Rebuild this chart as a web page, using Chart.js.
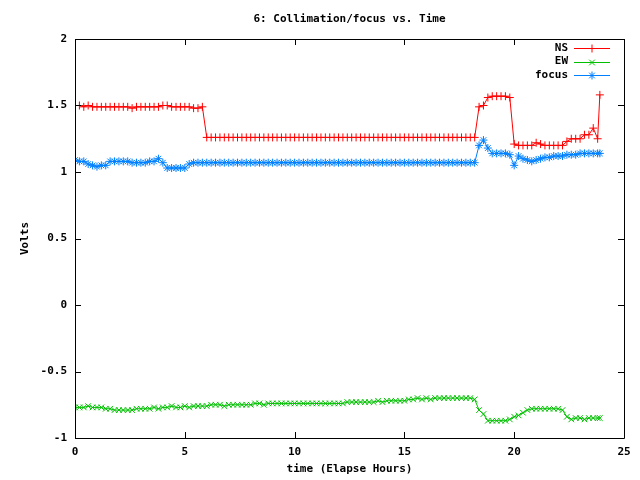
<!DOCTYPE html>
<html>
<head>
<meta charset="utf-8">
<script src="https://cdn.jsdelivr.net/npm/chart.js@4"></script>
<style>
  html, body { margin: 0; padding: 0; background: #fff; }
  #wrap { width: 640px; height: 480px; }
</style>
</head>
<body>
<div id="wrap"><canvas id="myChart" width="640" height="480"></canvas></div>
<script>
// elapsed time, hours
const hours = [
  0.0, 0.2, 0.4, 0.6, 0.8, 1.0, 1.2, 1.4, 1.6, 1.8,
  2.0, 2.2, 2.4, 2.6, 2.8, 3.0, 3.2, 3.4, 3.6, 3.8,
  4.0, 4.2, 4.4, 4.6, 4.8, 5.0, 5.2, 5.4, 5.6, 5.8,
  6.0, 6.2, 6.4, 6.6, 6.8, 7.0, 7.2, 7.4, 7.6, 7.8,
  8.0, 8.2, 8.4, 8.6, 8.8, 9.0, 9.2, 9.4, 9.6, 9.8,
  10.0, 10.2, 10.4, 10.6, 10.8, 11.0, 11.2, 11.4, 11.6, 11.8,
  12.0, 12.2, 12.4, 12.6, 12.8, 13.0, 13.2, 13.4, 13.6, 13.8,
  14.0, 14.2, 14.4, 14.6, 14.8, 15.0, 15.2, 15.4, 15.6, 15.8,
  16.0, 16.2, 16.4, 16.6, 16.8, 17.0, 17.2, 17.4, 17.6, 17.8,
  18.0, 18.2, 18.4, 18.6, 18.8, 19.0, 19.2, 19.4, 19.6, 19.8,
  20.0, 20.2, 20.4, 20.6, 20.8, 21.0, 21.2, 21.4, 21.6, 21.8,
  22.0, 22.2, 22.4, 22.6, 22.8, 23.0, 23.2, 23.4, 23.6, 23.8, 23.9
]

const ns = [
  1.50, 1.50, 1.49, 1.50, 1.49, 1.49, 1.49, 1.49, 1.49, 1.49,
  1.49, 1.49, 1.49, 1.48, 1.49, 1.49, 1.49, 1.49, 1.49, 1.49,
  1.50, 1.50, 1.49, 1.49, 1.49, 1.49, 1.49, 1.48, 1.48, 1.49,
  1.26, 1.26, 1.26, 1.26, 1.26, 1.26, 1.26, 1.26, 1.26, 1.26,
  1.26, 1.26, 1.26, 1.26, 1.26, 1.26, 1.26, 1.26, 1.26, 1.26,
  1.26, 1.26, 1.26, 1.26, 1.26, 1.26, 1.26, 1.26, 1.26, 1.26,
  1.26, 1.26, 1.26, 1.26, 1.26, 1.26, 1.26, 1.26, 1.26, 1.26,
  1.26, 1.26, 1.26, 1.26, 1.26, 1.26, 1.26, 1.26, 1.26, 1.26,
  1.26, 1.26, 1.26, 1.26, 1.26, 1.26, 1.26, 1.26, 1.26, 1.26,
  1.26, 1.26, 1.49, 1.50, 1.56, 1.57, 1.57, 1.57, 1.57, 1.56,
  1.21, 1.20, 1.20, 1.20, 1.20, 1.22, 1.21, 1.20, 1.20, 1.20,
  1.20, 1.20, 1.23, 1.25, 1.25, 1.25, 1.28, 1.28, 1.33, 1.25, 1.58
]

const ew = [
  -0.77, -0.77, -0.77, -0.76, -0.77, -0.77, -0.77, -0.78, -0.78, -0.79,
  -0.79, -0.79, -0.79, -0.79, -0.78, -0.78, -0.78, -0.78, -0.77, -0.78,
  -0.77, -0.77, -0.76, -0.77, -0.77, -0.76, -0.77, -0.76, -0.76, -0.76,
  -0.76, -0.75, -0.75, -0.75, -0.76, -0.75, -0.75, -0.75, -0.75, -0.75,
  -0.75, -0.74, -0.74, -0.75, -0.74, -0.74, -0.74, -0.74, -0.74, -0.74,
  -0.74, -0.74, -0.74, -0.74, -0.74, -0.74, -0.74, -0.74, -0.74, -0.74,
  -0.74, -0.74, -0.73, -0.73, -0.73, -0.73, -0.73, -0.73, -0.73, -0.72,
  -0.73, -0.72, -0.72, -0.72, -0.72, -0.72, -0.71, -0.71, -0.70, -0.71,
  -0.70, -0.71, -0.70, -0.70, -0.70, -0.70, -0.70, -0.70, -0.70, -0.70,
  -0.70, -0.71, -0.79, -0.82, -0.87, -0.87, -0.87, -0.87, -0.87, -0.86,
  -0.84, -0.83, -0.81, -0.79, -0.78, -0.78, -0.78, -0.78, -0.78, -0.78,
  -0.78, -0.79, -0.84, -0.86, -0.85, -0.85, -0.86, -0.85, -0.85, -0.85, -0.85
]

const focus = [
  1.09, 1.08, 1.08, 1.06, 1.05, 1.04, 1.05, 1.05, 1.08, 1.08,
  1.08, 1.08, 1.08, 1.07, 1.07, 1.07, 1.07, 1.08, 1.08, 1.10,
  1.07, 1.03, 1.03, 1.03, 1.03, 1.03, 1.06, 1.07, 1.07, 1.07,
  1.07, 1.07, 1.07, 1.07, 1.07, 1.07, 1.07, 1.07, 1.07, 1.07,
  1.07, 1.07, 1.07, 1.07, 1.07, 1.07, 1.07, 1.07, 1.07, 1.07,
  1.07, 1.07, 1.07, 1.07, 1.07, 1.07, 1.07, 1.07, 1.07, 1.07,
  1.07, 1.07, 1.07, 1.07, 1.07, 1.07, 1.07, 1.07, 1.07, 1.07,
  1.07, 1.07, 1.07, 1.07, 1.07, 1.07, 1.07, 1.07, 1.07, 1.07,
  1.07, 1.07, 1.07, 1.07, 1.07, 1.07, 1.07, 1.07, 1.07, 1.07,
  1.07, 1.07, 1.20, 1.24, 1.18, 1.14, 1.14, 1.14, 1.14, 1.13,
  1.05, 1.12, 1.10, 1.09, 1.08, 1.09, 1.10, 1.11, 1.11, 1.12,
  1.12, 1.12, 1.13, 1.13, 1.13, 1.14, 1.14, 1.14, 1.14, 1.14, 1.14
]

const xTicks = [0, 5, 10, 15, 20, 25]
const yTicks = [-1, -0.5, 0, 0.5, 1, 1.5, 2]

const FONT = "'DejaVu Sans Mono', monospace"

const pts = (vals) => hours.map((h, i) => ({ x: h, y: vals[i] }))

// gnuplot-like frame: box, inward ticks on all four sides, legend at top right
const framePlugin = {
    id: 'frame',
    afterDatasetsDraw(chart) {
        const { ctx, chartArea: a, scales } = chart
        ctx.save()
        ctx.strokeStyle = '#000'
        ctx.lineWidth = 1
        ctx.beginPath()
        ctx.rect(Math.round(a.left) + 0.5, Math.round(a.top) + 0.5,
            Math.round(a.right - a.left), Math.round(a.bottom - a.top))
        xTicks.forEach(v => {
            const px = Math.round(scales.x.getPixelForValue(v)) + 0.5
            ctx.moveTo(px, a.bottom); ctx.lineTo(px, a.bottom - 6)
            ctx.moveTo(px, a.top); ctx.lineTo(px, a.top + 6)
        })
        yTicks.forEach(v => {
            const py = Math.round(scales.y.getPixelForValue(v)) + 0.5
            ctx.moveTo(a.left, py); ctx.lineTo(a.left + 6, py)
            ctx.moveTo(a.right, py); ctx.lineTo(a.right - 6, py)
        })
        ctx.stroke()

        // legend
        ctx.font = 'bold 11px ' + FONT
        ctx.textAlign = 'right'
        ctx.textBaseline = 'middle'
        chart.data.datasets.forEach((ds, i) => {
            const y = a.top + 9 + i * 13.5
            ctx.fillStyle = '#000'
            ctx.fillText(ds.label, a.right - 56, y)
            ctx.strokeStyle = ds.borderColor
            ctx.beginPath()
            ctx.moveTo(a.right - 50, Math.round(y) + 0.5)
            ctx.lineTo(a.right - 14, Math.round(y) + 0.5)
            ctx.stroke()
            Chart.helpers.drawPoint(ctx, {
                pointStyle: ds.pointStyle, radius: 4, rotation: 0, borderWidth: 1
            }, a.right - 32, Math.round(y) + 0.5)
        })
        ctx.restore()
    }
}

const ctx = document.getElementById('myChart').getContext('2d')

const myChart = new Chart(ctx, {
    type: 'line',
    data: {
        datasets: [
            { label: 'NS', data: pts(ns), borderColor: '#ff0000', pointStyle: 'cross' },
            { label: 'EW', data: pts(ew), borderColor: '#00c000', pointStyle: 'crossRot' },
            { label: 'focus', data: pts(focus), borderColor: '#0080ff', pointStyle: 'star' },
        ].map(d => Object.assign(d, {
            backgroundColor: d.borderColor,
            pointBorderColor: d.borderColor,
            borderWidth: 1,
            pointRadius: 4,
            pointBorderWidth: 1,
            tension: 0,
            fill: false,
        })),
    },
    options: {
        responsive: false,
        animation: false,
        layout: { padding: { top: 39, right: 16, left: 0, bottom: 0 } },
        plugins: {
            legend: { display: false },
            tooltip: { enabled: false },
            title: { display: false },
        },
        scales: {
            x: {
                type: 'linear',
                min: 0, max: 25,
                afterFit: s => { s.height = 42 },
                afterBuildTicks: s => { s.ticks = xTicks.map(v => ({ value: v })) },
                grid: { display: false, drawTicks: false },
                border: { display: false },
                ticks: { padding: 8, color: '#000', font: { family: FONT, size: 11, weight: 'bold' },
                    maxRotation: 0, callback: v => String(v) },
                title: { display: true, text: 'time (Elapse Hours)', color: '#000',
                    font: { family: FONT, size: 11, weight: 'bold' }, padding: { top: 0, bottom: 4 } },
            },
            y: {
                type: 'linear',
                min: -1, max: 2,
                afterFit: s => { s.width = 75 },
                afterBuildTicks: s => { s.ticks = yTicks.map(v => ({ value: v })) },
                grid: { display: false, drawTicks: false },
                border: { display: false },
                ticks: { padding: 8, color: '#000', font: { family: FONT, size: 11, weight: 'bold' },
                    callback: v => String(v) },
                title: { display: true, text: 'Volts', color: '#000',
                    font: { family: FONT, size: 11, weight: 'bold' }, padding: { top: 19, bottom: 0 } },
            },
        },
    },
    plugins: [framePlugin, {
        id: 'mainTitle',
        afterDraw(chart) {
            const c = chart.ctx
            c.save()
            c.font = 'bold 11px ' + FONT
            c.fillStyle = '#000'
            c.textAlign = 'center'
            c.textBaseline = 'middle'
            c.fillText('6: Collimation/focus vs. Time', (chart.chartArea.left + chart.chartArea.right) / 2, 19)
            c.restore()
        }
    }],
});
</script>
</body>
</html>
